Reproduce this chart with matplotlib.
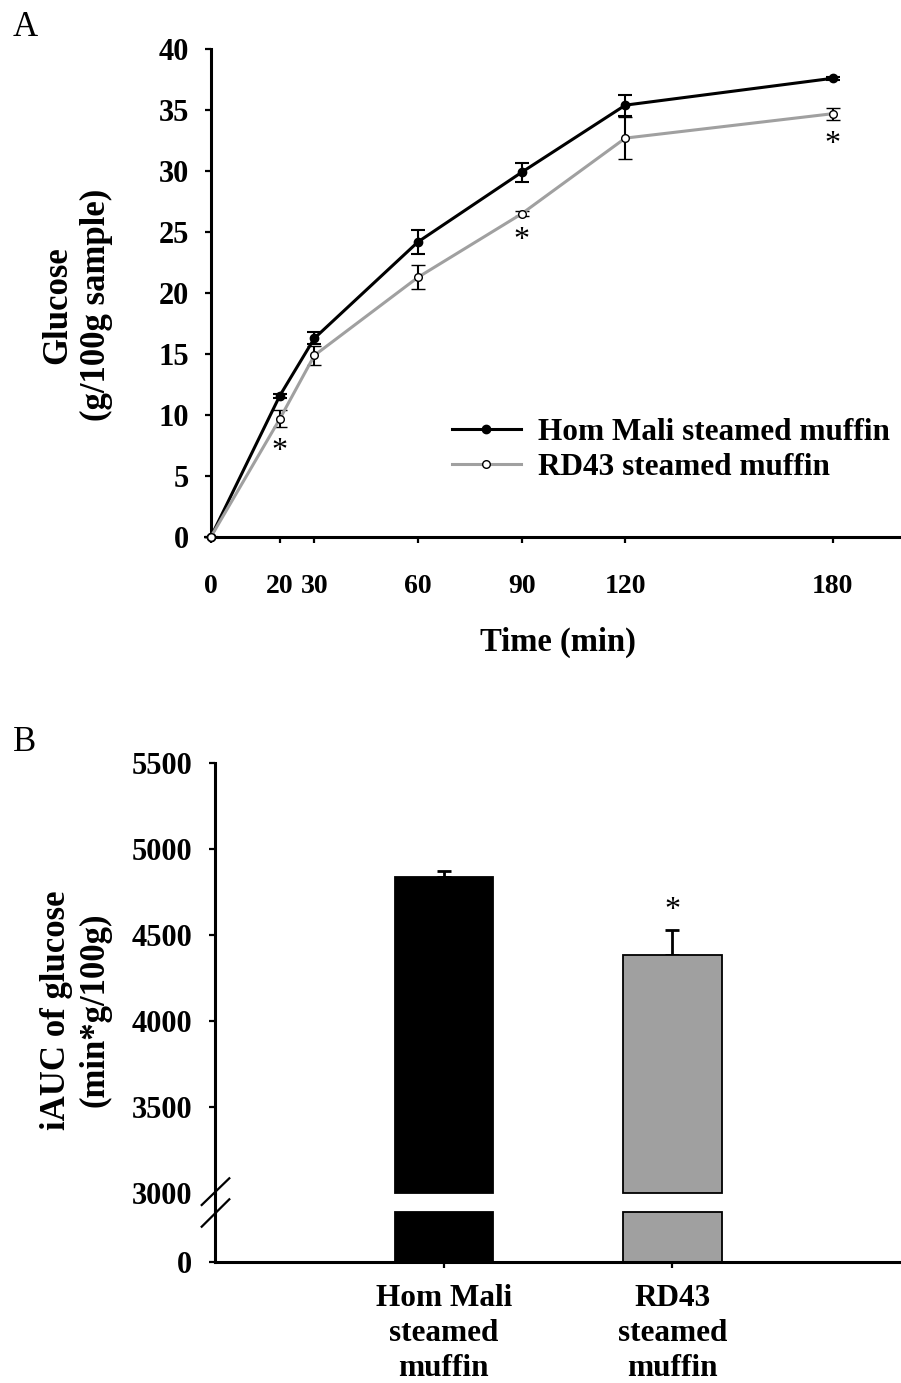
import matplotlib
matplotlib.use("Agg")
import matplotlib.pyplot as plt
from matplotlib.lines import Line2D
import numpy as np

plt.rcParams['font.family'] = ['Liberation Serif', 'DejaVu Serif']
plt.rcParams['font.weight'] = 'bold'

# ---------------- data ----------------
time_min = [0, 20, 30, 60, 90, 120, 180]
hom_mali = [0, 11.6, 16.3, 24.2, 29.9, 35.4, 37.6]
hom_mali_err = [0, 0.15, 0.5, 1.0, 0.8, 0.85, 0.1]
rd43 = [0, 9.7, 14.9, 21.3, 26.5, 32.7, 34.7]
rd43_err = [0, 0.7, 0.8, 1.0, 0.2, 1.75, 0.5]
sig_times = [20, 90, 180]
series_labels = ['Hom Mali steamed muffin', 'RD43 steamed muffin']
xticks_a = [0, 20, 30, 60, 90, 120, 180]
yticks_a = [0, 5, 10, 15, 20, 25, 30, 35, 40]

bar_categories = ['Hom Mali\nsteamed\nmuffin', 'RD43\nsteamed\nmuffin']
iauc = [4837, 4382]
iauc_err = [35, 145]
iauc_sig = [False, True]
yticks_b = [3000, 3500, 4000, 4500, 5000, 5500]
break_value = 3000

# ---------------- figure ----------------
W, H = 901, 1383
fig = plt.figure(figsize=(W / 100, H / 100), dpi=100)

def fx(px):
    return px / W

def fy(py):
    return 1 - py / H

GRAY = '#a0a0a0'
YTICK_FS = 22
XTICK_FS = 20
LAB_FS = 22.5
YLAB_FS = 25
SPINE_LW = 2.2

# ---------------- panel A ----------------
axA = fig.add_axes([fx(210.7), fy(537.3), fx(900) - fx(210.7), fy(49) - fy(537.3)])
axA.errorbar(time_min, hom_mali, yerr=hom_mali_err, color='black', lw=2.2,
             marker='o', ms=6, mfc='black', mec='black', ecolor='black',
             elinewidth=1.5, capsize=4.7, capthick=1.5, clip_on=False, zorder=3,
             label=series_labels[0])
axA.errorbar(time_min, rd43, yerr=rd43_err, color=GRAY, lw=2.2,
             marker='o', ms=5.5, mfc='white', mec='black', mew=1.0, ecolor='black',
             elinewidth=1.5, capsize=4.7, capthick=1.5, clip_on=False, zorder=4,
             label=series_labels[1])
for t in sig_times:
    i = time_min.index(t)
    axA.annotate('*', xy=(t, rd43[i] - rd43_err[i]), xytext=(0, -23),
                 textcoords='offset points', ha='center', va='baseline',
                 fontsize=23, fontweight='normal')
axA.set_xlim(0, 199.5)
axA.set_ylim(0, 40)
axA.set_xticks(xticks_a)
axA.set_yticks(yticks_a)
for s in ['top', 'right']:
    axA.spines[s].set_visible(False)
for s in ['left', 'bottom']:
    axA.spines[s].set_linewidth(SPINE_LW)
axA.tick_params(axis='both', direction='out', length=4.5, width=1.6)
axA.tick_params(axis='x', pad=22, labelsize=XTICK_FS)
axA.tick_params(axis='y', pad=11, labelsize=YTICK_FS)
for lbl in axA.get_xticklabels() + axA.get_yticklabels():
    lbl.set_fontweight('bold')

h1 = Line2D([], [], color='black', lw=2.2, marker='o', ms=6, mfc='black', mec='black')
h2 = Line2D([], [], color=GRAY, lw=2.2, marker='o', ms=5.5, mfc='white', mec='black', mew=1.0)
leg = axA.legend([h1, h2], series_labels, loc='upper left',
                 bbox_to_anchor=(fx(452), fy(418)), bbox_transform=fig.transFigure,
                 frameon=False, borderpad=0, borderaxespad=0, handlelength=2.2,
                 handletextpad=0.55, labelspacing=0.2, numpoints=1,
                 prop={'size': LAB_FS, 'weight': 'bold'})

fig.text(fx(77), fy(305), 'Glucose\n(g/100g sample)', rotation=90, ha='center',
         va='center', fontsize=YLAB_FS, fontweight='bold', multialignment='center',
         linespacing=1.2)
fig.text(fx(558), fy(642), 'Time (min)', ha='center', va='center',
         fontsize=23.5, fontweight='bold')
fig.text(fx(13), fy(36), 'A', ha='left', va='baseline', fontsize=25, fontweight='normal')

# ---------------- panel B (broken axis) ----------------
x_pos = np.arange(1, len(bar_categories) + 1)
bar_colors = ['black', GRAY]
bar_w = 0.43
left_b = 215
axB_hi = fig.add_axes([fx(left_b), fy(1192.7), fx(900) - fx(left_b), fy(762.7) - fy(1192.7)])
axB_lo = fig.add_axes([fx(left_b), fy(1262), fx(900) - fx(left_b), fy(1212.3) - fy(1262)])

low_top = 290  # value range shown in the lower segment (same scale as upper)
for xi, v, e, c, sig in zip(x_pos, iauc, iauc_err, bar_colors, iauc_sig):
    axB_hi.bar(xi, v - break_value, bottom=break_value, width=bar_w, color=c,
               edgecolor='black', linewidth=1.3, clip_on=False, zorder=2)
    axB_hi.errorbar(xi, v, yerr=[[0], [e]], color='black', elinewidth=2.0,
                    capsize=5, capthick=2.0, fmt='none', zorder=1, clip_on=False)
    axB_lo.bar(xi, min(v, low_top), width=bar_w, color=c, edgecolor='black',
               linewidth=1.3, clip_on=False, zorder=2)
    if sig:
        axB_hi.annotate('*', xy=(xi, v + e), xytext=(0, 9), textcoords='offset points',
                        ha='center', va='baseline', fontsize=23, fontweight='normal')

for ax in (axB_hi, axB_lo):
    ax.set_xlim(0, 2.995)
    for s in ['top', 'right']:
        ax.spines[s].set_visible(False)
    ax.spines['left'].set_linewidth(SPINE_LW)
    ax.spines['bottom'].set_linewidth(SPINE_LW)
    ax.tick_params(axis='both', direction='out', length=4.5, width=1.6, labelsize=YTICK_FS)
    ax.tick_params(axis='y', pad=12)

axB_hi.set_ylim(break_value, 5500)
axB_hi.set_yticks(yticks_b)
axB_hi.spines['bottom'].set_visible(False)
axB_hi.set_xticks([])
axB_hi.yaxis.get_major_ticks()[0].tick1line.set_visible(False)
for lbl in axB_hi.get_yticklabels():
    lbl.set_fontweight('bold')

axB_lo.set_ylim(0, low_top)
axB_lo.set_yticks([0])
axB_lo.set_xticks(x_pos)
axB_lo.set_xticklabels(bar_categories, fontsize=LAB_FS, fontweight='bold', linespacing=1.28)
axB_lo.tick_params(axis='x', pad=11)
for lbl in axB_lo.get_yticklabels():
    lbl.set_fontweight('bold')

# continuous axis line through the break, plus break marks
fig.add_artist(Line2D([fx(left_b), fx(left_b)], [fy(1193.5), fy(1211.5)], color='black',
                      lw=SPINE_LW, transform=fig.transFigure))
for (x0, y0, x1, y1) in [(201.7, 1205, 229.3, 1178.3), (201.7, 1226.7, 229.3, 1199.3)]:
    fig.add_artist(Line2D([fx(x0), fx(x1)], [fy(y0), fy(y1)], color='black', lw=1.6,
                          transform=fig.transFigure))

fig.text(fx(76), fy(1010), 'iAUC of glucose\n(min*g/100g)', rotation=90, ha='center',
         va='center', fontsize=YLAB_FS, fontweight='bold', multialignment='center',
         linespacing=1.2)
fig.text(fx(13), fy(751), 'B', ha='left', va='baseline', fontsize=25, fontweight='normal')

fig.savefig('out.png', dpi=100)
